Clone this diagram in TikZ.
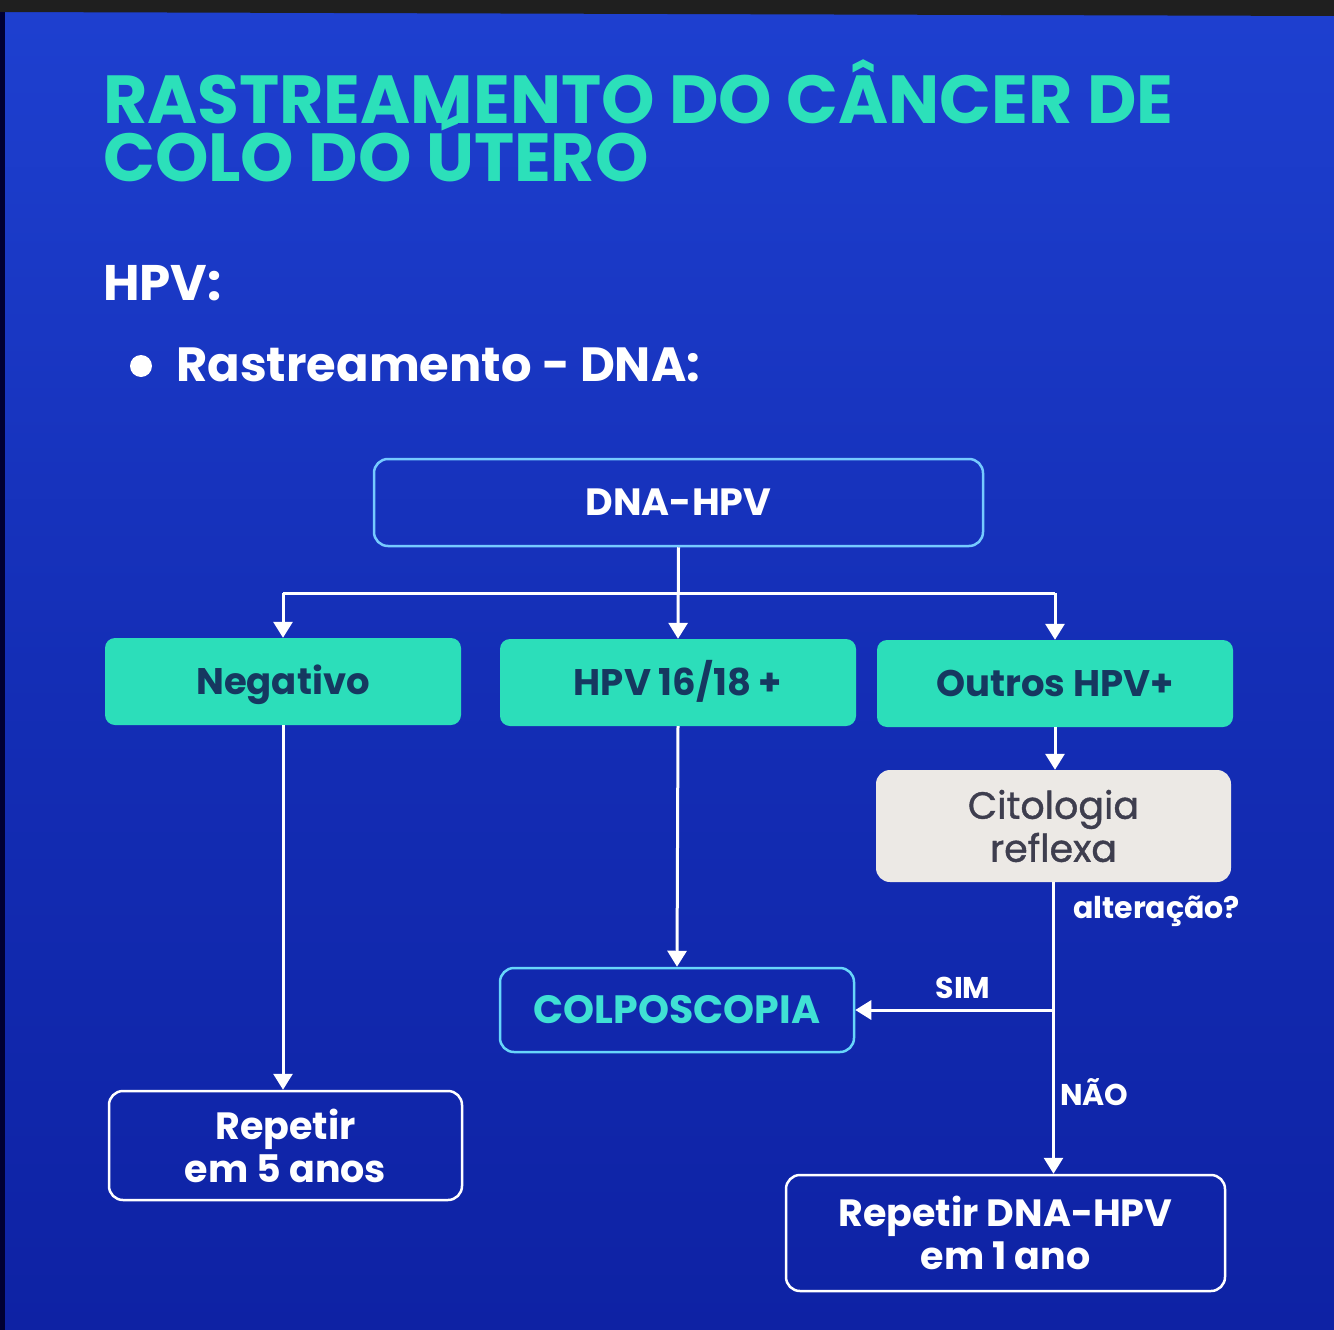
\documentclass[tikz,border=0pt]{standalone}
\usepackage{fontspec}
\setmainfont{Poppins}
\newfontfamily\medfont{Poppins}[FakeBold=1.0]
\usetikzlibrary{arrows.meta}
\definecolor{bgtop}{RGB}{30,64,208}
\definecolor{bgmid}{RGB}{20,46,182}
\definecolor{bgbot}{RGB}{14,34,164}
\definecolor{mint}{RGB}{44,224,186}
\definecolor{boxfill}{RGB}{44,222,186}
\definecolor{navytext}{RGB}{22,56,96}
\definecolor{lightblue}{RGB}{118,202,255}
\definecolor{cyanline}{RGB}{104,214,250}
\definecolor{colpotext}{RGB}{64,224,212}
\definecolor{citofill}{RGB}{236,233,229}
\definecolor{citotext}{RGB}{62,62,78}
\tikzset{
  x=1pt,y=-1pt,
  tealbox/.style={fill=boxfill,rounded corners=10pt,minimum width=356pt,minimum height=87pt,
    text=navytext,font=\fontsize{37}{40}\selectfont\bfseries,inner sep=0pt,
    text height=26pt,text depth=0pt},
  outbox/.style={draw=white,line width=2.5pt,rounded corners=14pt,inner sep=0pt,align=center,
    text=white,font=\fontsize{38}{43}\selectfont\bfseries},
  conn/.style={draw=white,line width=3pt},
  arr/.style={conn,-{Triangle[width=19pt,length=16pt]}},
  lbl/.style={text=white,font=\fontsize{30}{32}\selectfont\bfseries,inner sep=0pt}
}
\begin{document}
\begin{tikzpicture}
\useasboundingbox (0,0) rectangle (1334,1330);
\shade[top color=bgtop,bottom color=bgbot,middle color=bgmid] (0,0) rectangle (1334,1330);
\fill[black!88] (0,0) -- (1334,0) -- (1334,16) -- (0,12) -- cycle;
\fill[black!80!blue] (0,12) rectangle (5,1330);
% title
\node[anchor=base west,text=mint,inner sep=0pt,font=\fontsize{68}{60}\selectfont\bfseries] (t1) at (103,123) {RASTREAMENTO DO CÂNCER DE};
\node[anchor=base west,text=mint,inner sep=0pt,font=\fontsize{68}{60}\selectfont\bfseries] (t2) at (103,181) {COLO DO ÚTERO};
\node[anchor=base west,text=white,inner sep=0pt,font=\fontsize{50}{50}\selectfont\bfseries] (hpv) at (103,300) {HPV:};
\node[circle,fill=white,minimum size=22pt,inner sep=0pt] (bul) at (141,366) {};
\node[anchor=base west,text=white,inner sep=0pt,font=\fontsize{48}{50}\selectfont\bfseries] (ras) at (176,381) {Rastreamento - DNA:};
% boxes
\node[outbox,draw=lightblue,minimum width=609pt,minimum height=87pt,text height=26.5pt,text depth=0pt] (dna) at (678.5,502.5) {DNA-HPV};
\node[tealbox] (neg) at (283,681.5) {Negativo};
\node[tealbox] (h16) at (678,682.5) {HPV 16/18 +};
\node[tealbox] (out) at (1055,683.5) {Outros HPV+};
\node[fill=citofill,rounded corners=14pt,minimum width=355pt,minimum height=112pt,inner sep=0pt,align=center,
  text=citotext,font=\fontsize{38}{43}\selectfont\medfont] (cito) at (1053.5,826) {Citologia\\reflexa};
\node[outbox,draw=cyanline,minimum width=354pt,minimum height=84pt,text=colpotext,
  font=\fontsize{39.5}{40}\selectfont\bfseries,text height=27.5pt,text depth=0pt] (colpo) at (677,1010) {COLPOSCOPIA};
\node[outbox,minimum width=353pt,minimum height=109pt] (rep5) at (285.5,1145.5) {Repetir\\em 5 anos};
\node[outbox,minimum width=439pt,minimum height=116pt] (rep1) at (1005.5,1233) {Repetir DNA-HPV\\em 1 ano};
% labels
\node[lbl,anchor=west] (alt) at (1073,911) {alteração?};
\node[lbl] (sim) at (963,988) {SIM};
\node[lbl,anchor=west] (nao) at (1060,1092) {NÃO};
% connectors
\coordinate (bar) at (678,593);
\draw[conn] (neg.north |- bar) -- (out.north |- bar);
\draw[arr] (dna.south) -- (h16.north);
\draw[arr] (neg.north |- bar) -- (neg.north);
\draw[arr] (out.north |- bar) -- (out.north);
\draw[arr] (out.south) -- (out.south |- cito.north);
\draw[arr] (neg.south) -- (neg.south |- rep5.north);
\draw[arr] (h16.south) -- (colpo.north);
\coordinate (j) at (cito.south |- colpo.east);
\draw[conn] (cito.south) -- (j);
\draw[arr] (j) -- (colpo.east);
\draw[arr] (j) -- (cito.south |- rep1.north);
\end{tikzpicture}
\end{document}
